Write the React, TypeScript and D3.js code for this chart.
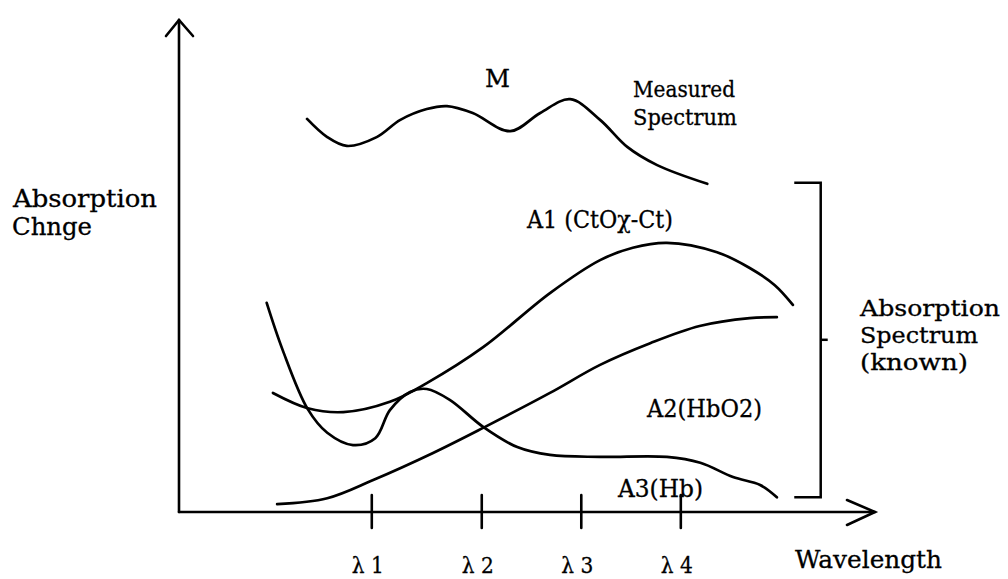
import React from "react";
import * as d3 from "d3";

const W = 1008;
const H = 579;

// Wavelength positions (arbitrary units 0–100) and absorption (0–100)
const measuredX = [18.4, 21.3, 24.1, 28.4, 31.8, 35.6, 38.5, 42.2, 47.6, 51.9, 56.2, 60.5, 64.4, 68.7, 75.9];
const measuredY = [79.9, 76.2, 74.4, 76.2, 79.7, 81.9, 82.5, 81.1, 77.4, 81.1, 83.9, 79.7, 74.2, 70.5, 66.7];

const a1X = [13.5, 18.5, 23.6, 30.3, 35.6, 43.7, 53.3, 60.5, 65.2, 70.1, 77.3, 82.0, 85.6, 88.2];
const a1Y = [24.2, 21.1, 20.3, 22.4, 26.2, 33.5, 44.5, 51.2, 53.7, 54.7, 52.8, 49.6, 46.1, 42.1];

const a2X = [14.1, 21.3, 27.9, 36.5, 43.7, 53.3, 60.5, 67.7, 74.8, 82.0, 85.9];
const a2Y = [1.6, 2.8, 6.5, 12.0, 17.1, 24.2, 29.9, 34.3, 37.8, 39.4, 39.6];

const a3X = [12.6, 14.9, 18.5, 21.3, 25.0, 28.2, 30.3, 33.2, 35.6, 38.9, 43.7, 48.6, 53.3, 60.5, 70.1, 74.9, 79.6, 83.5, 85.9];
const a3Y = [42.5, 32.9, 20.9, 16.1, 13.6, 15.0, 20.7, 24.4, 25.0, 22.8, 17.3, 13.2, 11.6, 11.2, 11.2, 10.0, 7.1, 5.5, 3.0];

const tickValues = [27.7, 43.5, 57.8, 72.1];
const tickLabels = ["λ 1", "λ 2", "λ 3", "λ 4"];

// Bracket grouping the known spectra (data units)
const bracketTop = 66.9;
const bracketBottom = 3.0;
const bracketMid = 35.0;
const bracketX = 92.2;
const bracketLeft = 88.4;

const FONT = "'DejaVu Serif', serif";

export default function App() {
  const x = d3.scaleLinear().domain([0, 100]).range([179, 875]);
  const y = d3.scaleLinear().domain([0, 100]).range([512, 20]);

  const toPts = (xs: number[], ys: number[]) => xs.map((v, i) => [v, ys[i]] as [number, number]);
  const line = d3
    .line<[number, number]>()
    .x((d) => x(d[0]))
    .y((d) => y(d[1]))
    .curve(d3.curveCatmullRom.alpha(0.5));

  const series = [
    toPts(measuredX, measuredY),
    toPts(a1X, a1Y),
    toPts(a2X, a2Y),
    toPts(a3X, a3Y),
  ];

  const x0 = x(0);
  const y0 = y(0);
  const xEnd = x(100);
  const yTop = y(100);

  const txt = (
    s: string,
    tx: number,
    ty: number,
    len: number,
    size = 24,
    anchor: "start" | "middle" = "start"
  ) => (
    <text
      key={s + tx + ty}
      x={tx}
      y={ty}
      fontFamily={FONT}
      fontSize={size}
      textAnchor={anchor}
      textLength={len}
      lengthAdjust="spacingAndGlyphs"
      fill="#000"
      stroke="#000"
      strokeWidth={0.3}
    >
      {s}
    </text>
  );

  return (
    <svg
      width={W}
      height={H}
      style={{ position: "absolute", left: 0, top: 0, background: "#fff" }}
    >
      <rect width={W} height={H} fill="#fff" />
      {/* axes */}
      <g stroke="#000" strokeWidth={2.6} fill="none" strokeLinecap="round">
        <line x1={x0} y1={y0} x2={x0} y2={yTop} />
        <polyline points={`${x0 - 13},${yTop + 16} ${x0},${yTop} ${x0 + 14},${yTop + 16}`} />
        <line x1={x0} y1={y0} x2={xEnd} y2={y0} />
        <polyline points={`${xEnd - 28},${y0 - 12} ${xEnd},${y0} ${xEnd - 28},${y0 + 13}`} />
        {tickValues.map((t) => (
          <line key={t} x1={x(t)} x2={x(t)} y1={y0 - 17} y2={y0 + 16} />
        ))}
      </g>
      {/* curves */}
      <g stroke="#000" strokeWidth={2.7} fill="none" strokeLinecap="round" strokeLinejoin="round">
        {series.map((s, i) => (
          <path key={i} d={line(s) || ""} />
        ))}
      </g>
      {/* bracket */}
      <g stroke="#000" strokeWidth={2.5} fill="none">
        <polyline
          points={`${x(bracketLeft)},${y(bracketTop)} ${x(bracketX)},${y(bracketTop)} ${x(bracketX)},${y(bracketBottom)} ${x(bracketLeft)},${y(bracketBottom)}`}
        />
        <line x1={x(bracketX)} x2={x(bracketX) + 7} y1={y(bracketMid)} y2={y(bracketMid)} />
      </g>
      {/* tick labels */}
      {tickLabels.map((l, i) => txt(l, x(tickValues[i]) - 4, 573, 32, 22, "middle"))}
      {/* texts */}
      {txt("Absorption", 13, 207, 144)}
      {txt("Chnge", 12, 235, 80)}
      {txt("M", 485, 87, 25)}
      {txt("Measured", 633, 97, 102, 22)}
      {txt("Spectrum", 633, 125, 104, 22)}
      {txt("A1 (CtOχ-Ct)", 527, 228, 146)}
      {txt("A2(HbO2)", 647, 417, 115)}
      {txt("A3(Hb)", 618, 497, 85)}
      {txt("Absorption", 860, 316, 140, 22)}
      {txt("Spectrum", 860, 343, 118, 22)}
      {txt("(known)", 860, 370, 108, 22)}
      {txt("Wavelength", 795, 568, 147, 25)}
    </svg>
  );
}
